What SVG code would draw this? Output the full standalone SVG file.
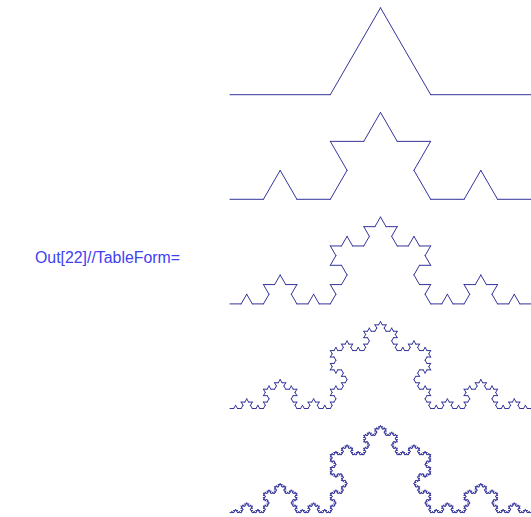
<svg xmlns="http://www.w3.org/2000/svg" xmlns:xlink="http://www.w3.org/1999/xlink" width="531" height="517" viewBox="0 0 531 517">
  <style>
    .seg { fill: none; stroke: #34349c; stroke-width: 1; stroke-linecap: round; vector-effect: non-scaling-stroke; }
    .label { font-family: "Liberation Sans", Arial, sans-serif; font-size: 16px; fill: #4040f4; }
  </style>
  <defs>
    <path id="k0" class="seg" d="M0,0 H1" vector-effect="non-scaling-stroke"/>
    <g id="k1">
      <use href="#k0" transform="scale(0.33333333)"/>
      <use href="#k0" transform="translate(0.33333333,0) rotate(-60) scale(0.33333333)"/>
      <use href="#k0" transform="translate(0.5,-0.28867513) rotate(60) scale(0.33333333)"/>
      <use href="#k0" transform="translate(0.66666667,0) scale(0.33333333)"/>
    </g>
    <g id="k2">
      <use href="#k1" transform="scale(0.33333333)"/>
      <use href="#k1" transform="translate(0.33333333,0) rotate(-60) scale(0.33333333)"/>
      <use href="#k1" transform="translate(0.5,-0.28867513) rotate(60) scale(0.33333333)"/>
      <use href="#k1" transform="translate(0.66666667,0) scale(0.33333333)"/>
    </g>
    <g id="k3">
      <use href="#k2" transform="scale(0.33333333)"/>
      <use href="#k2" transform="translate(0.33333333,0) rotate(-60) scale(0.33333333)"/>
      <use href="#k2" transform="translate(0.5,-0.28867513) rotate(60) scale(0.33333333)"/>
      <use href="#k2" transform="translate(0.66666667,0) scale(0.33333333)"/>
    </g>
    <g id="k4">
      <use href="#k3" transform="scale(0.33333333)"/>
      <use href="#k3" transform="translate(0.33333333,0) rotate(-60) scale(0.33333333)"/>
      <use href="#k3" transform="translate(0.5,-0.28867513) rotate(60) scale(0.33333333)"/>
      <use href="#k3" transform="translate(0.66666667,0) scale(0.33333333)"/>
    </g>
    <g id="k5">
      <use href="#k4" transform="scale(0.33333333)"/>
      <use href="#k4" transform="translate(0.33333333,0) rotate(-60) scale(0.33333333)"/>
      <use href="#k4" transform="translate(0.5,-0.28867513) rotate(60) scale(0.33333333)"/>
      <use href="#k4" transform="translate(0.66666667,0) scale(0.33333333)"/>
    </g>
  </defs>
  <rect width="531" height="517" fill="#ffffff"/>
  <text id="outlabel" class="label" x="35" y="262.5" textLength="145" lengthAdjust="spacingAndGlyphs">Out[22]//TableForm=</text>
  <g id="curves">
    <use id="level1" href="#k1" transform="translate(230,94.7) scale(301)"/>
    <use id="level2" href="#k2" transform="translate(230,199.3) scale(301)"/>
    <use id="level3" href="#k3" transform="translate(230,303.9) scale(301)"/>
    <use id="level4" href="#k4" transform="translate(230,408.5) scale(301)"/>
    <use id="level5" href="#k5" transform="translate(230,512.6) scale(301)"/>
  </g>
</svg>
